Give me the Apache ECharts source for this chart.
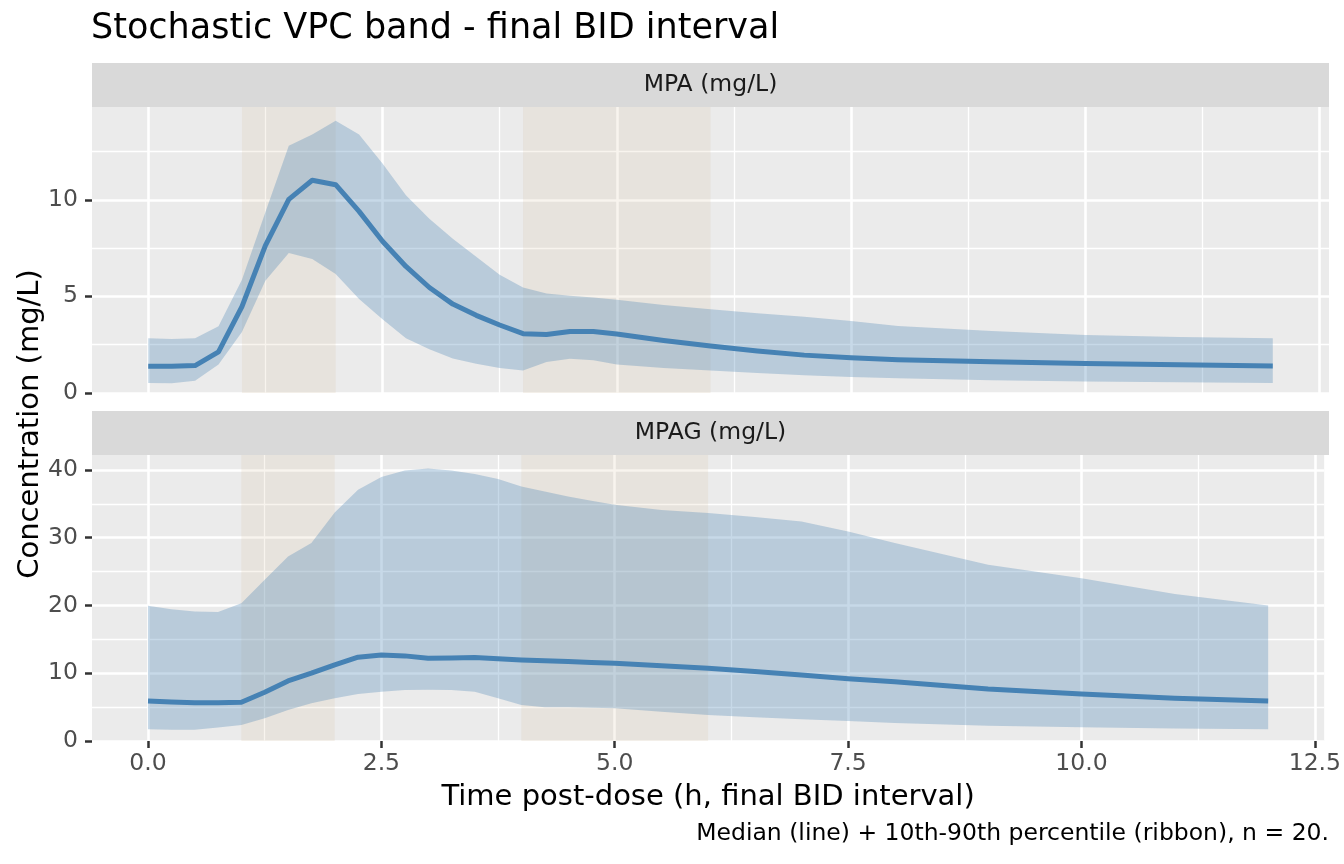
<!DOCTYPE html>
<html>
<head>
<meta charset="utf-8">
<title>Stochastic VPC band - final BID interval</title>
<script src="https://cdn.jsdelivr.net/npm/echarts@6/dist/echarts.min.js"></script>
<style>
  html, body { margin: 0; padding: 0; background: #fff; }
  #chart { width: 1344px; height: 864px; }
</style>
</head>
<body>
<div id="chart"></div>
<script>
// time grid (h post-dose, final BID interval)
const times = [0, 0.25, 0.5, 0.75, 1, 1.25, 1.5, 1.75, 2, 2.25, 2.5, 2.75, 3, 3.25, 3.5, 3.75,
  4, 4.25, 4.5, 4.75, 5, 5.5, 6, 6.5, 7, 7.5, 8, 9, 10, 11, 12]

// MPA (mg/L): 10th pct, median, 90th pct
const mpaLower = [0.52, 0.50, 0.64, 1.48, 3.16, 5.81, 7.25, 6.94, 6.16, 4.86, 3.82, 2.83, 2.26, 1.79, 1.51, 1.30,
  1.16, 1.61, 1.77, 1.69, 1.48, 1.30, 1.16, 1.04, 0.92, 0.83, 0.76, 0.66, 0.60, 0.56, 0.52]
const mpaMedian = [1.39, 1.38, 1.42, 2.13, 4.47, 7.63, 10.02, 11.01, 10.78, 9.40, 7.85, 6.55, 5.46, 4.60, 4.02, 3.52,
  3.07, 3.03, 3.18, 3.18, 3.05, 2.72, 2.43, 2.17, 1.96, 1.82, 1.72, 1.62, 1.53, 1.46, 1.40]
const mpaUpper = [2.83, 2.80, 2.83, 3.45, 5.86, 9.35, 12.80, 13.38, 14.09, 13.38, 11.88, 10.23, 9.02, 7.98, 7.05, 6.12,
  5.46, 5.15, 5.03, 4.94, 4.82, 4.56, 4.34, 4.13, 3.94, 3.73, 3.47, 3.21, 3.00, 2.90, 2.83]

// MPAG (mg/L): 10th pct, median, 90th pct
const mpagLower = [1.72, 1.67, 1.67, 2.01, 2.36, 3.35, 4.58, 5.56, 6.30, 6.94, 7.28, 7.53, 7.58, 7.53, 7.28, 6.30,
  5.32, 4.97, 4.97, 4.90, 4.82, 4.33, 3.84, 3.49, 3.20, 2.95, 2.65, 2.25, 2.02, 1.85, 1.72]
const mpagMedian = [5.91, 5.76, 5.66, 5.66, 5.71, 7.19, 8.86, 10.00, 11.23, 12.36, 12.70, 12.56, 12.21, 12.24, 12.31, 12.15,
  11.96, 11.84, 11.72, 11.60, 11.47, 11.10, 10.73, 10.24, 9.75, 9.20, 8.75, 7.68, 6.94, 6.30, 5.91]
const mpagUpper = [19.94, 19.45, 19.10, 19.05, 20.34, 23.78, 27.23, 29.20, 33.70, 37.08, 38.95, 39.93, 40.22, 39.93, 39.40, 38.65,
  37.57, 36.80, 36.09, 35.45, 34.86, 34.10, 33.63, 33.04, 32.40, 30.90, 29.20, 26.00, 24.03, 21.70, 19.99]

// shaded sampling windows (h)
const shadeWindows = [[1, 2], [4, 6]]

// tick positions
const xMajor = [0, 2.5, 5, 7.5, 10, 12.5]
const xMinor = [1.25, 3.75, 6.25, 8.75, 11.25]
const mpaMajor = [0, 5, 10]
const mpaMinor = [2.5, 7.5, 12.5]
const mpagMajor = [0, 10, 20, 30, 40]
const mpagMinor = [5, 15, 25, 35]

const FONT = 'DejaVu Sans'
const ribbonColor = 'rgba(70,130,180,0.3)'
const lineColor = '#4682b4'

const chart = echarts.init(document.getElementById('chart'))

function xAxes(gridIndex, bottom) {
  return [{
    type: 'value',
    gridIndex,
    min: -0.6,
    max: 12.6,
    axisLine: { show: false, onZero: false },
    axisTick: { show: bottom, customValues: xMajor, length: 7, lineStyle: { color: '#333', width: 2.5 } },
    axisLabel: {
      show: bottom, customValues: xMajor, margin: 11,
      color: '#4d4d4d', fontSize: 23.5, fontFamily: FONT,
      formatter: v => v.toFixed(1)
    },
    splitLine: { show: true, lineStyle: { color: '#fff', width: 2.6 } },
    name: bottom ? 'Time post-dose (h, final BID interval)' : '',
    nameLocation: 'middle',
    nameGap: 42,
    nameTextStyle: { color: '#000', fontSize: 29, fontFamily: FONT }
  }, {
    type: 'value',
    gridIndex,
    min: -0.6,
    max: 12.6,
    axisLine: { show: false, onZero: false },
    axisTick: { show: false, customValues: xMinor },
    axisLabel: { show: false },
    splitLine: { show: true, lineStyle: { color: '#fff', width: 1.3 } }
  }]
}

function yAxes(gridIndex, max, major, minor) {
  return [{
    type: 'value',
    gridIndex,
    min: 0,
    max,
    axisLine: { show: false, onZero: false },
    axisTick: { show: true, customValues: major, length: 7, lineStyle: { color: '#333', width: 2.5 } },
    axisLabel: { customValues: major, margin: 14, color: '#4d4d4d', fontSize: 23.5, fontFamily: FONT },
    splitLine: { show: true, lineStyle: { color: '#fff', width: 2.6 } }
  }, {
    type: 'value',
    gridIndex,
    min: 0,
    max,
    axisLine: { show: false, onZero: false },
    axisTick: { show: false, customValues: minor },
    axisLabel: { show: false },
    splitLine: { show: true, lineStyle: { color: '#fff', width: 1.3 } }
  }]
}

// ribbon drawn as one polygon through the axis scales (api.coord)
function ribbonSeries(axisIndex, lower, upper) {
  const rows = times.map((t, i) => [t, lower[i], upper[i]])
  return {
    type: 'custom',
    xAxisIndex: axisIndex,
    yAxisIndex: axisIndex,
    data: rows,
    encode: { x: 0, y: [1, 2] },
    silent: true,
    z: 2,
    renderItem(params, api) {
      if (params.dataIndex !== 0) return null
      const top = rows.map(r => api.coord([r[0], r[2]]))
      const bottom = rows.map(r => api.coord([r[0], r[1]])).reverse()
      return {
        type: 'polygon',
        shape: { points: top.concat(bottom) },
        style: { fill: ribbonColor }
      }
    },
    markArea: {
      silent: true,
      itemStyle: { color: 'rgba(210,180,140,0.15)' },
      data: shadeWindows.map(w => [{ xAxis: w[0] }, { xAxis: w[1] }])
    }
  }
}

function medianSeries(axisIndex, median) {
  return {
    type: 'line',
    xAxisIndex: axisIndex,
    yAxisIndex: axisIndex,
    data: times.map((t, i) => [t, median[i]]),
    symbol: 'none',
    lineStyle: { color: lineColor, width: 5, join: 'round' },
    silent: true,
    z: 3
  }
}

chart.setOption({
  animation: false,
  backgroundColor: '#fff',
  title: {
    text: 'Stochastic VPC band - final BID interval',
    left: 91,
    top: 11,
    padding: 0,
    textStyle: { color: '#000', fontSize: 35, fontWeight: 'normal', fontFamily: FONT }
  },
  grid: [
    { left: 92, top: 107, width: 1237, height: 286, show: true, backgroundColor: '#ebebeb', borderWidth: 0 },
    { left: 92, top: 455, width: 1237, height: 286, show: true, backgroundColor: '#ebebeb', borderWidth: 0 }
  ],
  xAxis: [...xAxes(0, false), ...xAxes(1, true)],
  yAxis: [...yAxes(0, 14.8, mpaMajor, mpaMinor), ...yAxes(1, 42.2, mpagMajor, mpagMinor)],
  graphic: [
    { type: 'rect', shape: { x: 92, y: 63, width: 1237, height: 44 }, style: { fill: '#d9d9d9' }, silent: true },
    { type: 'rect', shape: { x: 92, y: 411, width: 1237, height: 44 }, style: { fill: '#d9d9d9' }, silent: true },
    { type: 'text', x: 710.5, y: 85, silent: true,
      style: { text: 'MPA (mg/L)', fill: '#1a1a1a', fontSize: 23.5, fontFamily: FONT, align: 'center', verticalAlign: 'middle' } },
    { type: 'text', x: 710.5, y: 433, silent: true,
      style: { text: 'MPAG (mg/L)', fill: '#1a1a1a', fontSize: 23.5, fontFamily: FONT, align: 'center', verticalAlign: 'middle' } },
    { type: 'text', x: 30, y: 424, rotation: Math.PI / 2, silent: true,
      style: { text: 'Concentration (mg/L)', fill: '#000', fontSize: 29, fontFamily: FONT, align: 'center', verticalAlign: 'middle' } },
    { type: 'text', x: 1329, y: 834, silent: true,
      style: { text: 'Median (line) + 10th-90th percentile (ribbon), n = 20.', fill: '#000', fontSize: 23.5, fontFamily: FONT, align: 'right', verticalAlign: 'middle' } }
  ],
  series: [
    ribbonSeries(0, mpaLower, mpaUpper),
    medianSeries(0, mpaMedian),
    ribbonSeries(2, mpagLower, mpagUpper),
    medianSeries(2, mpagMedian)
  ]
})
</script>
</body>
</html>
